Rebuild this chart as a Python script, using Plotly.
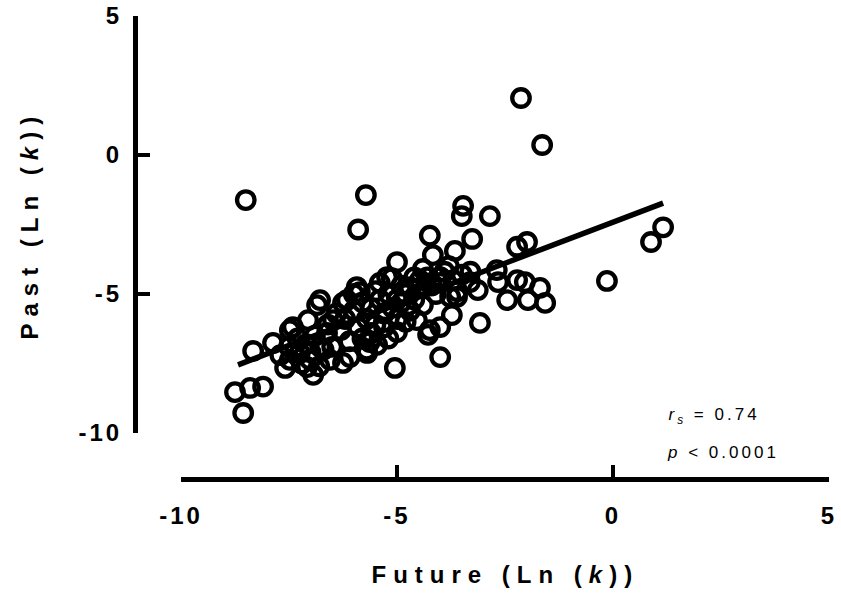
import plotly.graph_objects as go

# Data: Future (Ln k) vs Past (Ln k)
future = [
    -2.13, -1.64, -5.72, -5.90, -3.47, -3.50, -2.85, -4.24, -3.26, -1.99, -2.22,
    1.16, 0.88, -0.14, -5.00, -4.17, -3.66, -3.73, -3.08, -2.45, -1.97, -1.57,
    -1.69, -2.22, -2.04, -2.69, -2.66, -3.13, -3.61, -4.00, -4.47, -5.23, -4.24,
    -4.00, -4.54, -8.50,
    -8.56, -8.75, -8.40, -8.10, -8.33, -7.87, -7.59, -7.48, -7.41, -7.06, -6.78,
    -6.85, -7.01, -6.94, -7.08, -7.25, -6.78, -6.62, -6.48, -6.25, -6.16, -5.93,
    -5.86, -6.25, -6.09, -6.55, -5.05, -4.00, -4.28, -5.12, -3.31, -5.00, -5.63,
    -5.46, -5.69, -4.40, -4.70, -3.77, -7.48,
    -6.0, -5.8, -5.7, -5.6, -5.5, -5.4, -5.3, -5.2, -5.1, -5.0, -4.9, -4.8, -4.7,
    -4.6, -4.5, -5.9, -6.2, -6.3, -5.6, -5.3, -5.0, -4.9, -5.5, -5.8, -6.1, -6.4,
    -6.6, -6.9, -7.1, -7.3, -6.7, -7.0, -5.4, -4.3, -4.2, -4.0, -3.9, -3.7, -3.8,
    -4.4, -4.1, -3.6, -3.5, -3.3, -4.6, -6.0, -6.5, -5.2, -4.8, -5.7, -6.8, -7.2,
    -7.7, -7.5,
]
past = [
    2.05, 0.36, -1.44, -2.68, -1.83, -2.20, -2.20, -2.90, -3.02, -3.13, -3.30,
    -2.60, -3.13, -4.53, -3.85, -3.60, -3.45, -5.76, -6.04, -5.22, -5.22, -5.32,
    -4.78, -4.50, -4.57, -4.14, -4.57, -4.86, -5.10, -4.39, -4.50, -4.39, -6.30,
    -6.19, -5.94, -1.62,
    -9.28, -8.53, -8.38, -8.33, -7.05, -6.76, -7.66, -6.30, -6.19, -5.94, -5.22,
    -5.40, -7.37, -7.91, -7.63, -7.12, -6.90, -6.40, -5.94, -5.32, -5.22, -4.75,
    -4.93, -7.48, -7.27, -7.37, -7.66, -7.27, -6.47, -4.43, -4.57, -6.37, -6.73,
    -6.83, -7.12, -5.40, -4.75, -5.10, -7.37,
    -5.6, -5.3, -5.9, -5.5, -6.1, -5.2, -5.7, -5.0, -5.5, -5.9, -5.3, -5.0, -5.6,
    -5.2, -4.8, -6.2, -5.9, -6.3, -6.4, -6.2, -5.2, -4.7, -4.9, -6.6, -6.7, -5.7,
    -6.1, -6.5, -6.8, -6.6, -7.0, -7.1, -4.6, -4.4, -4.7, -4.6, -4.2, -4.5, -4.0,
    -4.1, -5.0, -4.9, -4.3, -4.2, -4.4, -5.0, -6.9, -6.6, -6.0, -7.0, -7.6, -7.5,
    -7.2, -6.9,
]

# Regression line endpoints
fit_x = [-8.68, 1.16]
fit_y = [-7.55, -1.73]

x_ticks = [-10, -5, 0, 5]
y_ticks = [-10, -5, 0, 5]
x_tick_labels = ["-10", "-5", "0", "5"]
y_tick_labels = ["-10", "-5", "0", "5"]

W, H = 841, 597
FONT = "Liberation Sans, Arial, sans-serif"

fig = go.Figure()
fig.add_trace(go.Scatter(
    x=future, y=past, mode="markers",
    marker=dict(symbol="circle-open", size=17.5, color="black",
                line=dict(width=4.3, color="black")),
    showlegend=False, hoverinfo="skip",
))
fig.add_trace(go.Scatter(
    x=fit_x, y=fit_y, mode="lines",
    line=dict(color="black", width=5.5),
    showlegend=False, hoverinfo="skip",
))

axis_common = dict(
    showline=True, linewidth=4.5, linecolor="black",
    ticks="inside", ticklen=12, tickwidth=4, tickcolor="black",
    showgrid=False, zeroline=False, anchor="free",
    tickfont=dict(family=FONT, size=24, color="black", weight="bold"),
    automargin=False, fixedrange=True,
)

fig.update_layout(
    width=W, height=H, autosize=False,
    margin=dict(l=0, r=0, t=0, b=0),
    paper_bgcolor="white", plot_bgcolor="white",
    xaxis=dict(domain=[181 / W, 829 / W], range=[-10, 5], tickvals=x_ticks,
               ticktext=x_tick_labels,
               position=(H - 479) / H, ticklabelstandoff=14, **axis_common),
    yaxis=dict(domain=[(H - 433) / H, (H - 16) / H], range=[-10, 5], tickvals=y_ticks,
               ticktext=y_tick_labels,
               position=135 / W, ticklabelstandoff=6, **axis_common),
    annotations=[
        dict(text="Future (Ln (<i>k</i>))", xref="paper", yref="paper",
             x=505 / W, y=(H - 574) / H, xanchor="center", yanchor="middle",
             showarrow=False,
             font=dict(family=FONT, size=24, color="black", weight="bold")),
        dict(text="Past (Ln (<i>k</i>))", xref="paper", yref="paper",
             x=30 / W, y=(H - 225) / H, xanchor="center", yanchor="middle",
             textangle=-90, showarrow=False,
             font=dict(family=FONT, size=24, color="black", weight="bold")),
        dict(text="<i>r</i><sub><i>s</i></sub> = 0.74", xref="paper", yref="paper",
             x=680 / W, y=(H - 416) / H, xanchor="left", yanchor="middle",
             showarrow=False, font=dict(family=FONT, size=17, color="black")),
        dict(text="<i>p</i> < 0.0001", xref="paper", yref="paper",
             x=680 / W, y=(H - 452) / H, xanchor="left", yanchor="middle",
             showarrow=False, font=dict(family=FONT, size=17, color="black")),
    ],
)

post = """
document.body.style.margin = '0';
document.body.style.padding = '0';
document.body.style.overflow = 'hidden';
var gd = document.getElementById('{plot_id}');
gd.querySelectorAll('.xtick text, .ytick text').forEach(function(t){ t.style.letterSpacing = '3px'; });
var sp = {0: '7px', 1: '7px', 2: '3px', 3: '3px'};
gd.querySelectorAll('g.annotation').forEach(function(g){
  var i = g.getAttribute('data-index');
  var t = g.querySelector('.annotation-text');
  if (t && sp[i]) { t.style.letterSpacing = sp[i]; }
});
"""

fig.write_html("out.html", config={"displayModeBar": False, "staticPlot": True},
               post_script=post)
